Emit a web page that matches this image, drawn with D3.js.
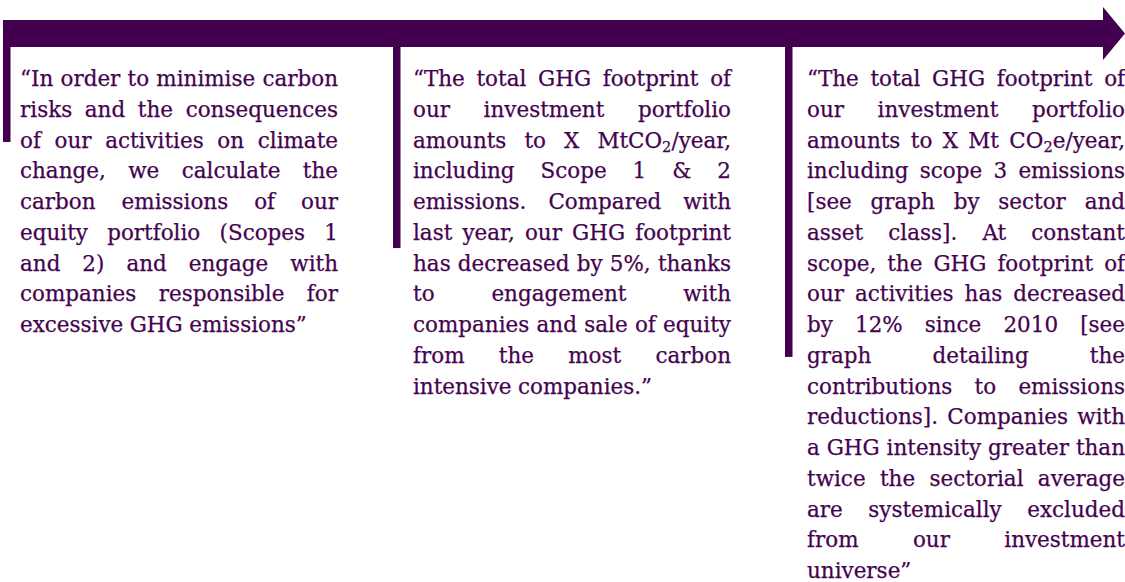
<!DOCTYPE html>
<html>
<head>
<meta charset="utf-8">
<script src="https://cdn.jsdelivr.net/npm/d3@7"></script>
<style>
    body { margin: 0; background: #fff; }
    svg { display: block; }
</style>
</head>
<body>
<div id="chart"></div>
<script>
(function() {
    var width = 1125,
        height = 582;

    var purple = "#42004e",
        textColor = "#44034f";

    // the three quotes, one entry per printed line ("_2" = subscript 2)
    var quote1 = [
        "\u201cIn order to minimise carbon",
        "risks and the consequences",
        "of our activities on climate",
        "change, we calculate the",
        "carbon emissions of our",
        "equity portfolio (Scopes 1",
        "and 2) and engage with",
        "companies responsible for",
        "excessive GHG emissions\u201d"
    ];
    var quote2 = [
        "\u201cThe total GHG footprint of",
        "our investment portfolio",
        "amounts to X MtCO_2/year,",
        "including Scope 1 & 2",
        "emissions. Compared with",
        "last year, our GHG footprint",
        "has decreased by 5%, thanks",
        "to engagement with",
        "companies and sale of equity",
        "from the most carbon",
        "intensive companies.\u201d"
    ];
    var quote3 = [
        "\u201cThe total GHG footprint of",
        "our investment portfolio",
        "amounts to X Mt CO_2e/year,",
        "including scope 3 emissions",
        "[see graph by sector and",
        "asset class]. At constant",
        "scope, the GHG footprint of",
        "our activities has decreased",
        "by 12% since 2010 [see",
        "graph detailing the",
        "contributions to emissions",
        "reductions]. Companies with",
        "a GHG intensity greater than",
        "twice the sectorial average",
        "are systemically excluded",
        "from our investment",
        "universe\u201d"
    ];
    var quotes = [quote1, quote2, quote3];

    // where each vertical stem ends (in line counts below the first baseline)
    var stemLines = [1.82, 5.27, 8.81];

    var colLeft = [20, 413, 807],
        colWidth = 318,
        barX = [3, 393, 785],
        barW = 7.5,
        bandTop = 20,
        bandBottom = 47,
        headStart = 1103,
        firstBaseline = 86,
        lineStep = 30.75;

    var svg = d3.select("#chart")
        .append("svg")
        .attr("width", width)
        .attr("height", height);

    var y = d3.scaleLinear()
        .domain([0, 1])
        .range([firstBaseline, firstBaseline + lineStep]);

    // arrow band + head
    var mid = (bandTop + bandBottom) / 2;
    var arrow = d3.path();
    arrow.moveTo(barX[0], bandTop);
    arrow.lineTo(headStart, bandTop);
    arrow.lineTo(headStart, 7);
    arrow.lineTo(width, mid);
    arrow.lineTo(headStart, 60);
    arrow.lineTo(headStart, bandBottom);
    arrow.lineTo(barX[0], bandBottom);
    arrow.closePath();

    svg.append("path")
        .attr("d", arrow.toString())
        .attr("fill", purple);

    svg.selectAll(".stem")
        .data(stemLines)
        .enter().append("rect")
        .attr("class", "stem")
        .attr("x", function(d, i) { return barX[i]; })
        .attr("y", bandBottom - 1)
        .attr("width", barW)
        .attr("height", function(d) { return y(d) - bandBottom + 1; })
        .attr("fill", purple);

    var fontFamily = "'DejaVu Serif', 'Liberation Serif', serif";
    var baseSize = 22;

    function addWord(g, word, size) {
        var t = g.append("text")
            .attr("font-family", fontFamily)
            .attr("font-size", size)
            .attr("fill", textColor)
            .attr("stroke", textColor)
            .attr("stroke-width", 0.25);
        var parts = word.split(/_(\d)/);
        parts.forEach(function(p, k) {
            if (p === "") return;
            if (k % 2 === 1) {
                t.append("tspan")
                    .attr("font-size", size * 0.68)
                    .attr("dy", size * 0.22)
                    .text(p);
            } else if (k > 0) {
                t.append("tspan")
                    .attr("dy", -size * 0.22)
                    .text(p);
            } else {
                t.append("tspan").text(p);
            }
        });
        return t;
    }

    // find a size where every line fits the column with plain spaces
    var probe = svg.append("g");
    var spaceW = addWord(probe, "a a", baseSize).node().getComputedTextLength()
        - 2 * addWord(probe, "a", baseSize).node().getComputedTextLength();
    var maxW = 0;
    quotes.forEach(function(q) {
        q.forEach(function(line) {
            var words = line.split(" ");
            var w = 0;
            words.forEach(function(wd) {
                w += addWord(probe, wd, baseSize).node().getComputedTextLength();
            });
            w += spaceW * (words.length - 1);
            if (w > maxW) maxW = w;
        });
    });
    probe.remove();
    var fontSize = Math.min(baseSize, baseSize * colWidth / maxW);

    quotes.forEach(function(q, c) {
        var g = svg.append("g").attr("class", "quote");
        q.forEach(function(line, li) {
            var words = line.split(" ");
            var nodes = words.map(function(wd) { return addWord(g, wd, fontSize); });
            var widths = nodes.map(function(n) { return n.node().getComputedTextLength(); });
            var total = d3.sum(widths);
            var last = li === q.length - 1;
            var gap = (!last && words.length > 1)
                ? (colWidth - total) / (words.length - 1)
                : fontSize * 0.3;
            var x = colLeft[c];
            nodes.forEach(function(n, k) {
                n.attr("x", x).attr("y", y(li));
                x += widths[k] + gap;
            });
        });
    });
})();
</script>
</body>
</html>
